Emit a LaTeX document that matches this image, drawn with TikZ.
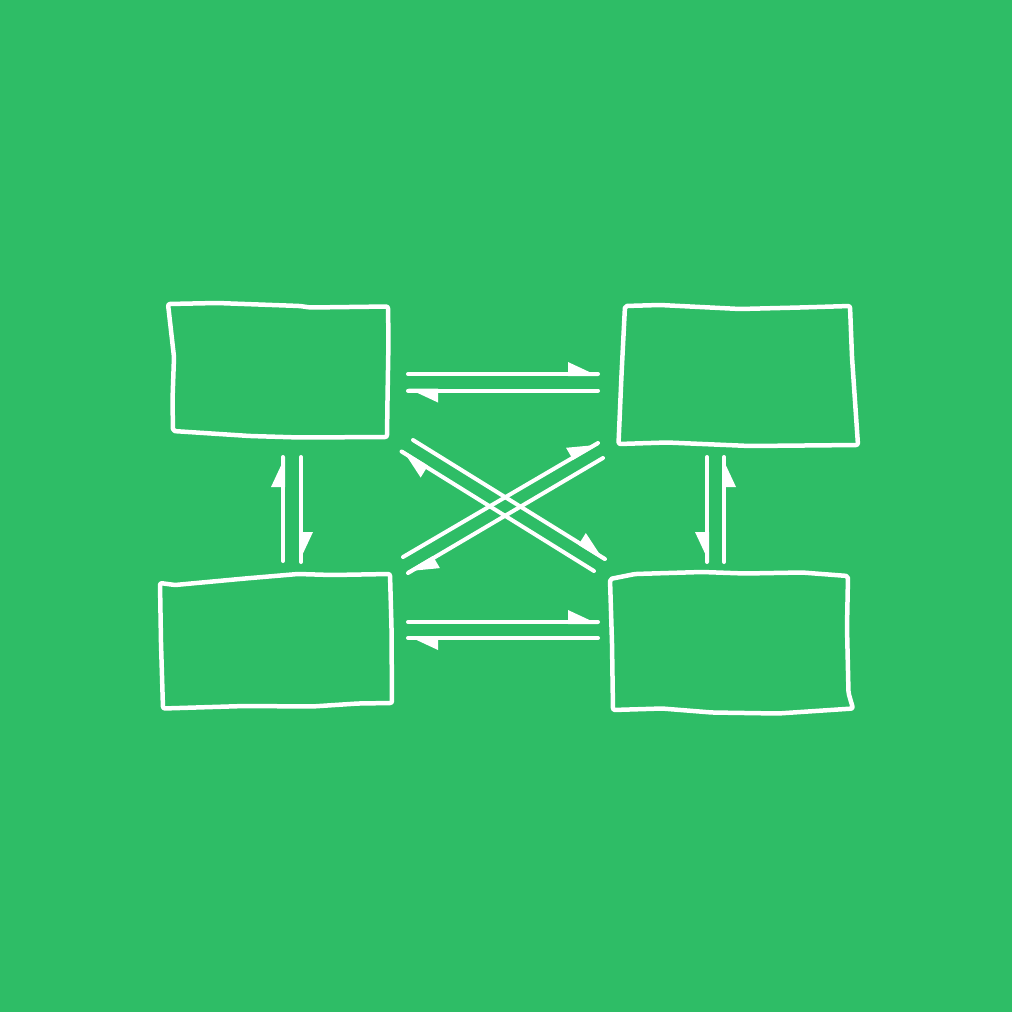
\documentclass[tikz,border=0pt]{standalone}
\usetikzlibrary{calc}
\definecolor{bg}{RGB}{46,189,102}
\tikzset{
  box/.style={draw=white, line width=4.5pt, line join=round, rounded corners=2pt},
  conn/.style={draw=white, line width=4pt, line cap=round},
  harphead/.style={fill=white}
}
% #1 start, #2 end, #3 side angle (90 = left of travel, -90 = right)
\newcommand\harparrow[3]{%
  \draw[conn] (#1) -- (#2);
  \coordinate (#2base) at ($(#2)!30pt!(#1)$);
  \fill[harphead] ($(#2)!2pt!#3:(#1)$) -- ($(#2base)!2pt!-#3:(#2)$) -- ($(#2base)!12pt!#3:(#2)$) -- cycle;
}
\begin{document}
\begin{tikzpicture}[x=1pt,y=-1pt]
\fill[bg] (0,0) rectangle (1012,1012);
\useasboundingbox (0,0) rectangle (1012,1012);
% boxes
\draw[box] (168,304) -- (217,303) -- (300,306) -- (310,307.5) -- (388,306.5) -- (388.5,340) -- (387.5,400) -- (387,437) -- (300,437.5) -- (250,436) -- (173,431) -- (172.5,400) -- (174,357) -- cycle;
\draw[box] (625,306) -- (660,305) -- (740,309) -- (800,307.5) -- (850,306) -- (852,357) -- (856.5,423) -- (858,445) -- (750,446) -- (667,442.5) -- (618.5,444) -- (621.5,375) -- cycle;
\draw[box] (160,583) -- (175,585) -- (245,578.5) -- (298,574) -- (332,575) -- (390,574) -- (391.5,627) -- (392,703) -- (358,703.5) -- (312,706.5) -- (245,706) -- (163,708.5) -- (161,643) -- cycle;
\draw[box] (610,579) -- (635,574) -- (702,572) -- (745,573.5) -- (802,572.5) -- (848,576) -- (847,627) -- (848.5,693) -- (853,708.5) -- (778,713.5) -- (712,712.5) -- (662,708.5) -- (613,710) -- (612,643) -- cycle;
% arrow end points
\coordinate (t1s) at (408,374);   \coordinate (t1e) at (598,374);
\coordinate (t2s) at (598,390.5); \coordinate (t2e) at (408,390.5);
\coordinate (b1s) at (408,622);   \coordinate (b1e) at (598,622);
\coordinate (b2s) at (598,638);   \coordinate (b2e) at (408,638);
\coordinate (l1s) at (283,561);   \coordinate (l1e) at (283,457);
\coordinate (l2s) at (301,457);   \coordinate (l2e) at (301,562);
\coordinate (r1s) at (707,457);   \coordinate (r1e) at (707,562);
\coordinate (r2s) at (724,562);   \coordinate (r2e) at (724,457);
\coordinate (d1s) at (413,440);   \coordinate (d1e) at (605,559);
\coordinate (d2s) at (594,571);   \coordinate (d2e) at (401.5,451.5);
\coordinate (d3s) at (403,557);   \coordinate (d3e) at (598,443);
\coordinate (d4s) at (603,458);   \coordinate (d4e) at (408,573);
% connectors
\harparrow{t1s}{t1e}{90}
\harparrow{t2s}{t2e}{90}
\harparrow{b1s}{b1e}{90}
\harparrow{b2s}{b2e}{90}
\harparrow{l1s}{l1e}{90}
\harparrow{l2s}{l2e}{90}
\harparrow{r1s}{r1e}{-90}
\harparrow{r2s}{r2e}{-90}
\harparrow{d1s}{d1e}{90}
\harparrow{d2s}{d2e}{90}
\harparrow{d3s}{d3e}{90}
\harparrow{d4s}{d4e}{90}
\end{tikzpicture}
\end{document}
